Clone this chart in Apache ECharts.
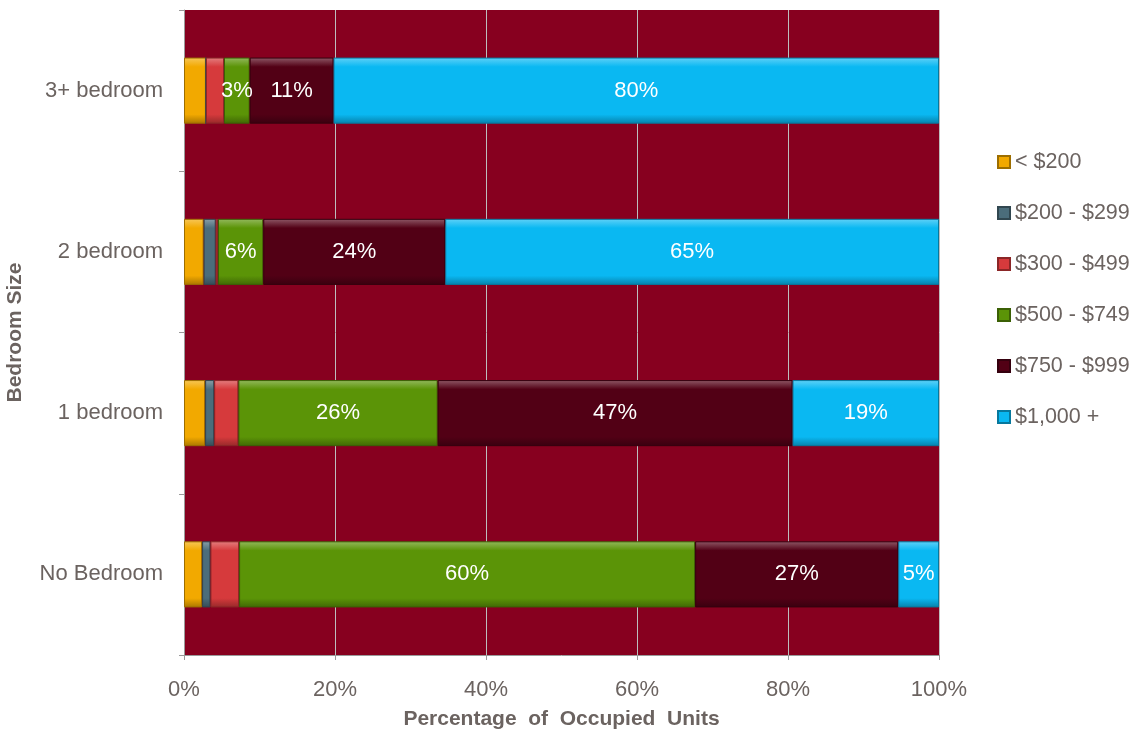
<!DOCTYPE html>
<html>
<head>
<meta charset="utf-8">
<script src="https://cdn.jsdelivr.net/npm/echarts@6/dist/echarts.min.js"></script>
<style>
  html, body { margin: 0; padding: 0; background: #fff; }
  #chart { width: 1142px; height: 731px; }
</style>
</head>
<body>
<div id="chart"></div>
<script>
// bedroom sizes, bottom to top
const categories = ['No Bedroom', '1 bedroom', '2 bedroom', '3+ bedroom']
const seriesNames = ['< $200', '$200 - $299', '$300 - $499', '$500 - $749', '$750 - $999', '$1,000 +']

// percent of occupied units, one array per rent band (same order as categories)
const under200 = [2.4, 2.8, 2.6, 2.9]
const r200to299 = [1.1, 1.2, 1.6, 0]
const r300to499 = [3.8, 3.2, 0.3, 2.4]
const r500to749 = [60.4, 26.4, 6.0, 3.4]
const r750to999 = [26.9, 47.0, 24.1, 11.1]
const r1000plus = [5.4, 19.4, 65.4, 80.2]

const xTicks = [0, 20, 40, 60, 80, 100]

const values = [under200, r200to299, r300to499, r500to749, r750to999, r1000plus]
const colors = ['#f2a900', '#4b6d7b', '#d63a3c', '#5b9407', '#520015', '#0ab8f2']
const labelled = [false, false, false, true, true, true]

// lighten/darken a hex colour for the bevel gradient
const shade = (hex, amt) => {
  const n = parseInt(hex.slice(1), 16)
  let r = (n >> 16) & 255, g = (n >> 8) & 255, b = n & 255
  const f = c => Math.max(0, Math.min(255, Math.round(amt > 0 ? c + (255 - c) * amt : c * (1 + amt))))
  return `rgb(${f(r)},${f(g)},${f(b)})`
}

const bevel = hex => new echarts.graphic.LinearGradient(0, 0, 0, 1, [
  { offset: 0, color: shade(hex, 0.35) },
  { offset: 0.14, color: hex },
  { offset: 0.86, color: hex },
  { offset: 1, color: shade(hex, -0.3) }
])

const textColor = '#6b6360'
const font = 'Liberation Sans, Arial, sans-serif'

const chart = echarts.init(document.getElementById('chart'))

chart.setOption({
  animation: false,
  textStyle: { fontFamily: font },
  grid: {
    left: 184, right: 203, top: 10, bottom: 76,
    containLabel: false, outerBoundsMode: 'none',
    show: true, backgroundColor: '#87001f', borderWidth: 0
  },
  legend: {
    orient: 'vertical',
    left: 997, top: 151, padding: 0,
    itemWidth: 12, itemHeight: 12, itemGap: 29,
    icon: 'rect',
    data: seriesNames.map((n, i) => ({ name: n, itemStyle: { color: colors[i] } })),
    textStyle: { color: textColor, fontSize: 21.5, fontFamily: font }
  },
  xAxis: {
    type: 'value',
    min: 0, max: 100, interval: 20,
    name: 'Percentage  of  Occupied  Units',
    nameLocation: 'middle', nameGap: 54,
    nameTextStyle: { color: textColor, fontSize: 21, fontWeight: 'bold', fontFamily: font },
    axisLine: { show: true, lineStyle: { color: '#9a9a9a', width: 1 } },
    axisTick: { show: true, length: 5, lineStyle: { color: '#9a9a9a' } },
    axisLabel: {
      color: textColor, fontSize: 22, margin: 24,
      formatter: v => xTicks.includes(v) ? v + '%' : ''
    },
    splitLine: { show: true, lineStyle: { color: '#bdbdbd', width: 1 } }
  },
  yAxis: {
    type: 'category',
    data: categories,
    name: 'Bedroom Size',
    nameLocation: 'middle', nameGap: 158, nameRotate: 90,
    nameTextStyle: { color: textColor, fontSize: 21, fontWeight: 'bold', fontFamily: font },
    axisLine: { show: true, lineStyle: { color: '#9a9a9a', width: 1 } },
    axisTick: { show: true, length: 5, lineStyle: { color: '#9a9a9a' } },
    axisLabel: { color: textColor, fontSize: 22, margin: 21 }
  },
  series: values.map((data, i) => ({
    name: seriesNames[i],
    type: 'bar',
    stack: 'total',
    barWidth: '41%',
    data: data,
    itemStyle: {
      color: bevel(colors[i]),
      borderColor: shade(colors[i], -0.35),
      borderWidth: 1
    },
    label: {
      show: labelled[i],
      position: 'inside',
      color: '#ffffff',
      fontSize: 22,
      fontFamily: font,
      formatter: p => p.value > 0 ? Math.round(p.value) + '%' : ''
    }
  }))
})
</script>
</body>
</html>
